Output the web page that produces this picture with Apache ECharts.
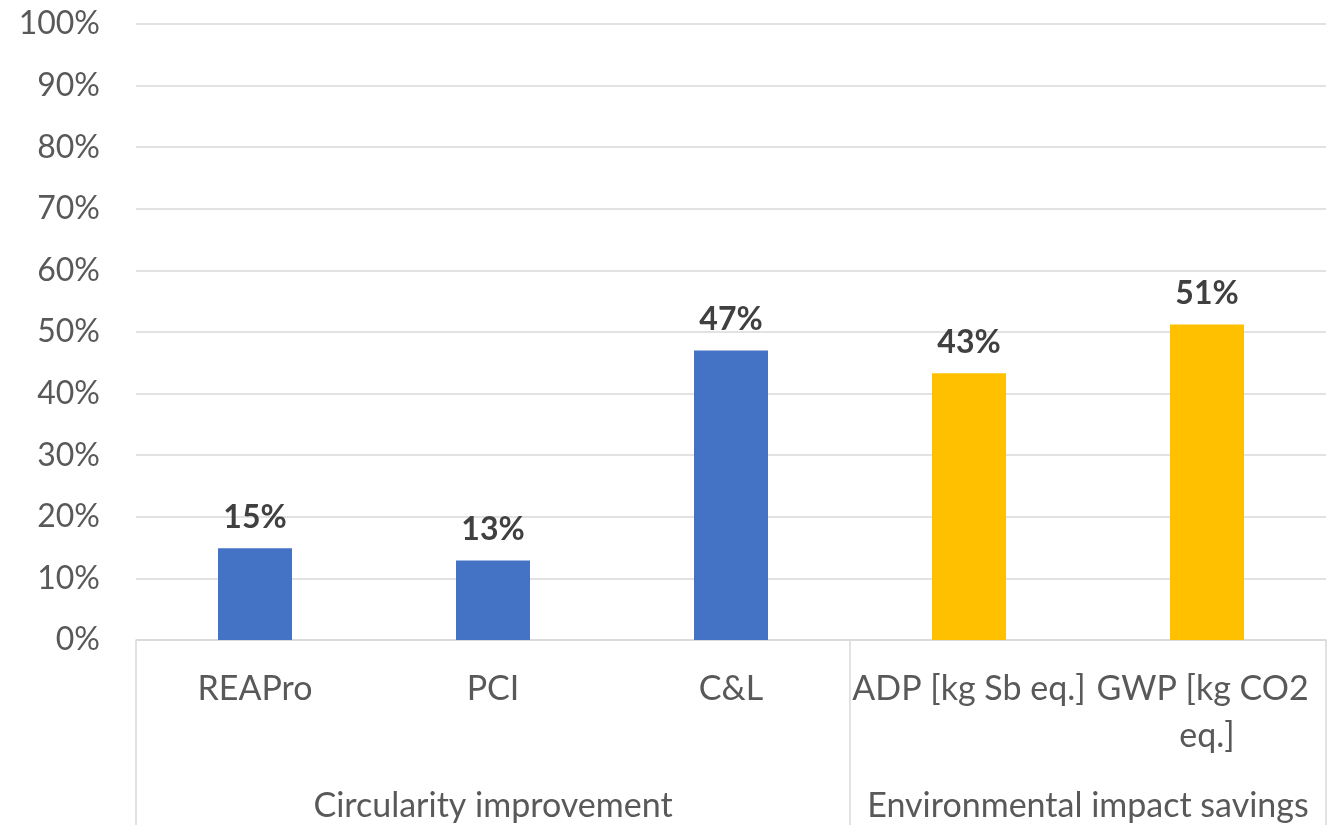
<!DOCTYPE html>
<html>
<head>
<meta charset="utf-8">
<script src="https://cdn.jsdelivr.net/npm/echarts@6/dist/echarts.min.js"></script>
<style>
    html, body { margin: 0; padding: 0; background: #fff; }
    #chart_con { width: 1335px; height: 825px; }
</style>
</head>
<body>
<div id="chart_con"></div>
<script>
// data (percent)
var categories = ['REAPro', 'PCI', 'C&L', 'ADP [kg Sb eq.]', 'GWP [kg CO2 eq.]'];
var values = [14.9, 12.9, 47.0, 43.3, 51.2];
var groupNames = ['Circularity improvement', 'Environmental impact savings'];
var groupSizes = [3, 2];
var groupColors = ['#4472C4', '#FFC000'];
var yTicks = [0, 10, 20, 30, 40, 50, 60, 70, 80, 90, 100];

var fontName = 'Lato';

// group boundaries and centres on a 0..n scale
var bounds = [0];
var centres = [];
var colorOf = [];
groupSizes.forEach(function (n, g) {
    var start = bounds[bounds.length - 1];
    centres.push(start + n / 2);
    bounds.push(start + n);
    for (var i = 0; i < n; i++) colorOf.push(groupColors[g]);
});

var chart = echarts.init(document.getElementById('chart_con'));
var option = {
    animation: false,
    grid: { left: 136, right: 9, top: 24, bottom: 185, containLabel: false, outerBoundsMode: 'none' },
    xAxis: [
        {
            type: 'category',
            data: categories,
            axisLine: { lineStyle: { color: '#d9d9d9', width: 1.5 } },
            axisTick: { show: false },
            axisLabel: {
                interval: 0,
                margin: 26,
                width: 236,
                overflow: 'break',
                lineHeight: 47,
                fontFamily: fontName,
                fontSize: 34,
                color: '#595959'
            }
        },
        {
            // second level: groups
            type: 'value',
            position: 'bottom',
            min: 0,
            max: categories.length,
            axisLine: { show: false },
            splitLine: { show: false },
            axisTick: {
                show: true,
                customValues: bounds,
                length: 185,
                lineStyle: { color: '#d9d9d9', width: 1.5 }
            },
            axisLabel: {
                customValues: centres,
                margin: 143,
                lineHeight: 47,
                fontFamily: fontName,
                fontSize: 34,
                color: '#595959',
                formatter: function (v) {
                    var i = centres.indexOf(v);
                    return i >= 0 ? groupNames[i] : '';
                }
            }
        }
    ],
    yAxis: {
        type: 'value',
        min: yTicks[0],
        max: yTicks[yTicks.length - 1],
        interval: yTicks[1] - yTicks[0],
        axisLine: { show: false },
        axisTick: { show: false },
        splitLine: { lineStyle: { color: '#d9d9d9', width: 1.5 } },
        axisLabel: {
            margin: 36,
            fontFamily: fontName,
            fontSize: 32,
            color: '#595959',
            formatter: '{value}%'
        }
    },
    series: [
        {
            type: 'bar',
            xAxisIndex: 0,
            barWidth: 74,
            data: values.map(function (v, i) {
                return { value: v, itemStyle: { color: colorOf[i] } };
            }),
            label: {
                show: true,
                position: 'top',
                distance: 15,
                fontFamily: fontName,
                fontSize: 32,
                fontWeight: 'bold',
                color: '#404040',
                formatter: function (p) {
                    return Math.round(p.value) + '%';
                }
            }
        }
    ]
};
chart.setOption(option);
window.addEventListener('resize', function () {
    chart.resize();
});
</script>
</body>
</html>
